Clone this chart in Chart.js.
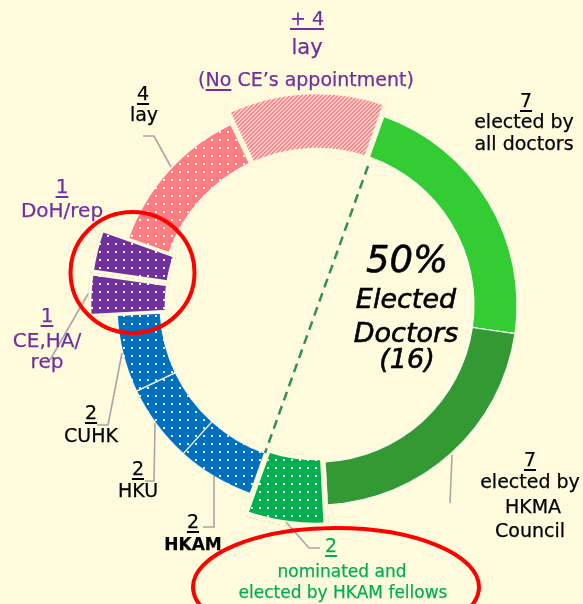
<!DOCTYPE html>
<html><head><meta charset="utf-8">
<script src="https://cdn.jsdelivr.net/npm/chart.js@4.4.1/dist/chart.umd.min.js"></script>
<style>
html,body{margin:0;padding:0;background:#FFFBDC;}
#wrap{position:relative;width:583px;height:604px;overflow:hidden;background:#FFFBDC;font-family:"DejaVu Sans",sans-serif;}
canvas{position:absolute;left:0;top:0;}
svg{position:absolute;left:0;top:0;}
.t{position:absolute;white-space:nowrap;line-height:1;transform:translateX(-50%);-webkit-text-stroke:0.25px currentColor;}
.u{text-decoration:underline;text-decoration-thickness:2px;text-underline-offset:3px;}
.p{color:#7030A0;} .k{color:#000;} .g{color:#00B050;}
.i{font-style:italic;-webkit-text-stroke:0.6px #000;}
</style></head><body><div id="wrap">
<canvas id="c0" width="583" height="604"></canvas>
<canvas id="c1" width="583" height="604"></canvas>
<canvas id="c2" width="583" height="604"></canvas>
<canvas id="c3" width="583" height="604"></canvas>
<svg width="583" height="604">
  <g fill="none" stroke="#A6A6A6" stroke-width="1.6">
    <polyline points="143,136 154,136 171,167"/>
    <polyline points="50,360 88,294"/>
    <polyline points="122,353 108,425 97,425"/>
    <polyline points="155,423 154,481 145,481"/>
    <polyline points="214,476 214,527 203,527"/>
    <polyline points="286,522 309,548 320,548"/>
    <polyline points="452,455 450,503"/>
  </g>
  <line x1="368" y1="166" x2="265" y2="453" stroke="#2F8F5F" stroke-width="2.5" stroke-dasharray="9 6"/>
  <ellipse cx="132.5" cy="272.5" rx="62" ry="60.5" fill="none" stroke="#FF0000" stroke-width="4"/>
  <ellipse cx="336" cy="587" rx="143" ry="59" fill="none" stroke="#FF0000" stroke-width="4"/>
</svg>
<div class="t p u" style="left:307px;top:9px;font-size:19px;">+ 4</div>
<div class="t p" style="left:307px;top:37px;font-size:21px;">lay</div>
<div class="t p" style="left:306px;top:70px;font-size:19px;">(<span class="u">No</span> CE’s appointment)</div>
<div class="t k u" style="left:526px;top:91px;font-size:19px;">7</div>
<div class="t k" style="left:524px;top:112px;font-size:19px;">elected by</div>
<div class="t k" style="left:524px;top:134px;font-size:19px;">all doctors</div>
<div class="t k u" style="left:143px;top:84px;font-size:19px;">4</div>
<div class="t k" style="left:144px;top:105px;font-size:19px;">lay</div>
<div class="t p u" style="left:62px;top:176px;font-size:20px;">1</div>
<div class="t p" style="left:62px;top:200px;font-size:20px;">DoH/rep</div>
<div class="t p u" style="left:47px;top:305px;font-size:20px;">1</div>
<div class="t p" style="left:47px;top:330px;font-size:20px;">CE,HA/</div>
<div class="t p" style="left:47px;top:351px;font-size:20px;">rep</div>
<div class="t k u" style="left:91px;top:403px;font-size:19px;">2</div>
<div class="t k" style="left:91px;top:426px;font-size:19px;">CUHK</div>
<div class="t k u" style="left:138px;top:459px;font-size:19px;">2</div>
<div class="t k" style="left:138px;top:481px;font-size:19px;">HKU</div>
<div class="t k u" style="left:193px;top:512px;font-size:19px;">2</div>
<div class="t k" style="left:193px;top:536px;font-size:17px;font-weight:bold;">HKAM</div>
<div class="t g u" style="left:331px;top:536px;font-size:19px;">2</div>
<div class="t g" style="left:342px;top:563px;font-size:17px;">nominated and</div>
<div class="t g" style="left:343px;top:584px;font-size:17px;">elected by HKAM fellows</div>
<div class="t k u" style="left:530px;top:450px;font-size:19px;">7</div>
<div class="t k" style="left:530px;top:472px;font-size:19px;">elected by</div>
<div class="t k" style="left:533px;top:497px;font-size:19px;">HKMA</div>
<div class="t k" style="left:530px;top:521px;font-size:19px;">Council</div>
<div class="t k i" style="left:407px;top:241px;font-size:37px;">50%</div>
<div class="t k i" style="left:406px;top:285px;font-size:27px;">Elected</div>
<div class="t k i" style="left:406px;top:319px;font-size:27px;">Doctors</div>
<div class="t k i" style="left:407px;top:345px;font-size:27px;">(16)</div>
</div>
<script>
// ---- data ----
const categories = ['elected by all doctors','elected by HKMA Council','nominated and elected by HKAM fellows','HKAM','HKU','CUHK','CE,HA/rep','DoH/rep','lay','+ lay (No CE’s appointment)'];
const seats = [7, 7, 2, 2, 2, 2, 1, 1, 4, 4];
const baseColors = ['#33CC33','#339933','#00B050','#0070C0','#0070C0','#0070C0','#7030A0','#7030A0','#FF7C80','#FF7C80'];
const fillKind = ['solid','solid','dots','dots','dots','dots','dots','dots','dots','hatch'];

// ---- styling ----
const BG = '#FFFBDC';
function dots(color){
  const c=document.createElement('canvas'); c.width=8; c.height=8;
  const x=c.getContext('2d'); x.fillStyle=color; x.fillRect(0,0,8,8);
  x.fillStyle='#ffffff'; x.fillRect(3,3,2,2);
  return x.createPattern(c,'repeat');
}
function hatch(){
  const c=document.createElement('canvas'); c.width=4; c.height=4;
  const x=c.getContext('2d'); x.fillStyle='#FFD0D0'; x.fillRect(0,0,4,4);
  x.fillStyle='#FF8585';
  for(let i=0;i<4;i++){ for(let j=0;j<4;j++){ const s=(i+j)%4; if(s===0||s===1) x.fillRect(i,j,1,1);} }
  return x.createPattern(c,'repeat');
}
function fillFor(i){
  if(fillKind[i]==='dots') return dots(baseColors[i]);
  if(fillKind[i]==='hatch') return hatch();
  return baseColors[i];
}
const layers = [
  {show:[0,1,3,4,5,8], outer:200, inner:157, main:true},
  {show:[9], outer:211, inner:157, gap:5},
  {show:[2], outer:218, inner:155, gap:5},
  {show:[6,7], outer:226, inner:152, gap:3}
];
layers.forEach((L,k)=>{
  const R = L.main ? L.outer : L.outer + L.gap;
  const r = L.main ? L.inner : L.inner - L.gap;
  const vis = i => L.show.includes(i);
  new Chart(document.getElementById('c'+k), {
    type:'doughnut',
    data:{labels:categories, datasets:[{
      data:seats,
      backgroundColor: seats.map((_,i)=>vis(i)?fillFor(i):'rgba(0,0,0,0)'),
      borderWidth: seats.map((_,i)=>vis(i)?(L.main?1.2:L.gap):0),
      borderColor: seats.map((_,i)=>L.main?'rgba(255,255,255,0.9)':BG),
      borderAlign: L.main?'center':'inner'
    }]},
    options:{
      responsive:false, animation:false, events:[],
      rotation:19.5, radius:R, cutout:(r/R*100)+'%',
      layout:{padding:{left:51,right:0,top:6,bottom:0}},
      plugins:{legend:{display:false}, tooltip:{enabled:false}}
    }
  });
});
</script>
</body></html>
